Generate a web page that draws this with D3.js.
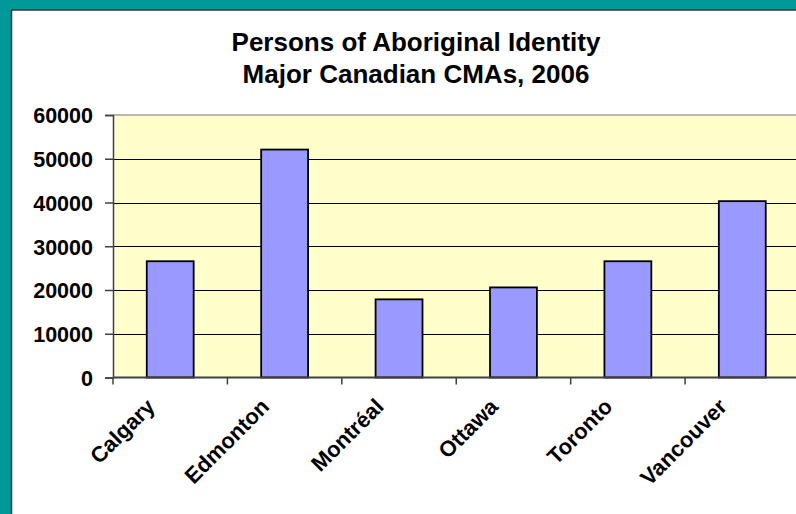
<!DOCTYPE html>
<html>
<head>
<meta charset="utf-8">
<script src="https://cdn.jsdelivr.net/npm/d3@7"></script>
<style>
  html, body { margin: 0; padding: 0; background: #009999; }
  svg { display: block; }
  text { font-family: "Liberation Sans", Arial, sans-serif; font-weight: bold; fill: #000; }
</style>
</head>
<body>
<svg id="chart" width="796" height="514"></svg>
<script>
// data
var cities = ["Calgary", "Edmonton", "Montréal", "Ottawa", "Toronto", "Vancouver"];
var persons = [26575, 52100, 17865, 20590, 26575, 40310];
var yTicks = [0, 10000, 20000, 30000, 40000, 50000, 60000];
var titleLines = ["Persons of Aboriginal Identity", "Major Canadian CMAs, 2006"];

var W = 796, H = 514,
    plot = { left: 113, top: 115, right: 799.5, bottom: 377.5 };

var svg = d3.select("#chart");

// chart page: teal frame, white sheet
svg.append("rect").attr("x", 0).attr("y", 0).attr("width", W).attr("height", H).attr("fill", "#009999");
svg.append("rect").attr("x", 11.5).attr("y", 10).attr("width", W).attr("height", H)
    .attr("fill", "#fff").attr("stroke", "#333").attr("stroke-width", 1.5);

var x = d3.scaleBand().domain(cities).range([plot.left, plot.right]).paddingInner(0.59).paddingOuter(0.295),
    xStep = d3.scaleBand().domain(cities).range([plot.left, plot.right]),
    y = d3.scaleLinear().domain([0, 60000]).range([plot.bottom, plot.top]);

// plot area
svg.append("rect").attr("x", plot.left).attr("y", plot.top)
    .attr("width", plot.right - plot.left).attr("height", plot.bottom - plot.top)
    .attr("fill", "#ffffcc");
svg.append("line").attr("x1", plot.left).attr("x2", plot.right)
    .attr("y1", plot.top).attr("y2", plot.top)
    .attr("stroke", "#a0a0a0").attr("stroke-width", 1.5);

// gridlines
svg.append("g").selectAll("line").data(yTicks.filter(function (d) { return d > 0 && d < 60000; }))
    .enter().append("line")
    .attr("x1", plot.left).attr("x2", plot.right)
    .attr("y1", function (d) { return Math.round(y(d)) + 0.5; })
    .attr("y2", function (d) { return Math.round(y(d)) + 0.5; })
    .attr("stroke", "#000").attr("stroke-width", 1);

// bars
svg.append("g").selectAll("rect").data(persons)
    .enter().append("rect")
    .attr("x", function (d, i) { return x(cities[i]); })
    .attr("y", function (d) { return y(d); })
    .attr("width", x.bandwidth())
    .attr("height", function (d) { return y(0) - y(d); })
    .attr("fill", "#9999ff").attr("stroke", "#000").attr("stroke-width", 1.8);

// y axis
var yAxis = svg.append("g").attr("transform", "translate(" + plot.left + ",0)")
    .call(d3.axisLeft(y).tickValues(yTicks).tickSize(8).tickPadding(12).tickFormat(d3.format("d")));
yAxis.select(".domain").attr("stroke", "#404040").attr("stroke-width", 1.5);
yAxis.selectAll(".tick line").attr("stroke", "#404040").attr("stroke-width", 1.5);
yAxis.selectAll(".tick text").attr("font-size", 21.5).attr("font-family", null).attr("fill", "#000")
    .attr("dy", "0.36em");

// x axis baseline and boundary ticks
var xg = svg.append("g");
xg.append("line").attr("x1", plot.left).attr("x2", plot.right)
    .attr("y1", plot.bottom).attr("y2", plot.bottom)
    .attr("stroke", "#404040").attr("stroke-width", 2);
xg.selectAll(".xtick").data(cities).enter().append("line")
    .attr("x1", function (d) { return xStep(d); }).attr("x2", function (d) { return xStep(d); })
    .attr("y1", plot.bottom).attr("y2", plot.bottom + 7)
    .attr("stroke", "#404040").attr("stroke-width", 1.5);
xg.selectAll("text").data(cities).enter().append("text")
    .attr("transform", function (d) {
        var cx = xStep(d) + xStep.bandwidth() / 2 - 14;
        return "translate(" + cx + ",408) rotate(-45)";
    })
    .attr("text-anchor", "end")
    .attr("font-size", 22)
    .text(function (d) { return d; });

// title
svg.append("g").selectAll("text").data(titleLines)
    .enter().append("text")
    .attr("x", 416).attr("y", function (d, i) { return 51 + i * 32; })
    .attr("text-anchor", "middle").attr("font-size", 26)
    .text(function (d) { return d; });
</script>
</body>
</html>
